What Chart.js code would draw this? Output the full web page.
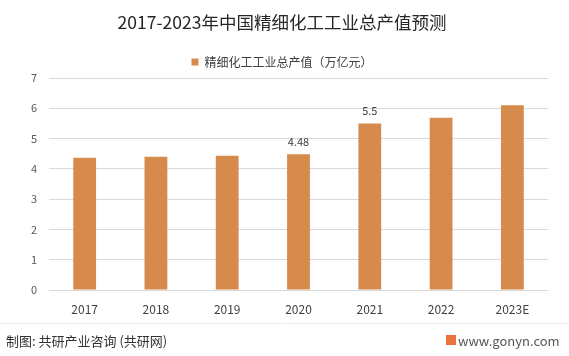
<!DOCTYPE html>
<html>
<head>
<meta charset="utf-8">
<script src="https://cdn.jsdelivr.net/npm/chart.js@4/dist/chart.umd.min.js"></script>
<style>
  html, body { margin: 0; padding: 0; background: #ffffff; }
  #wrap { width: 569px; height: 356px; position: relative; }
</style>
</head>
<body>
<div id="wrap"><canvas id="c" width="569" height="356"></canvas></div>
<script>
const titleText = '2017-2023年中国精细化工工业总产值预测';
const seriesName = '精细化工工业总产值（万亿元）';
const categories = ['2017', '2018', '2019', '2020', '2021', '2022', '2023E'];
const values = [4.37, 4.40, 4.43, 4.48, 5.5, 5.69, 6.10];
const showValueLabel = [false, false, false, true, true, false, false];
const yTicks = [0, 1, 2, 3, 4, 5, 6, 7];
const footerLeft = '制图: 共研产业咨询 (共研网)';
const footerRight = 'www.gonyn.com';

const FONT = '"Noto Sans CJK SC", "Noto Sans", sans-serif';
const BAR = '#D68B4C';

const extras = {
  id: 'extras',
  afterDatasetsDraw(chart) {
    const ctx = chart.ctx;
    const meta = chart.getDatasetMeta(0);
    ctx.save();
    ctx.font = '11px ' + FONT;
    ctx.fillStyle = '#404040';
    ctx.textAlign = 'center';
    ctx.textBaseline = 'middle';
    meta.data.forEach((bar, i) => {
      if (showValueLabel[i]) {
        ctx.fillText(String(values[i]), bar.x, bar.y - 12.5);
      }
    });
    ctx.restore();
  },
  afterDraw(chart) {
    const ctx = chart.ctx;
    ctx.save();
    ctx.strokeStyle = '#ececec';
    ctx.lineWidth = 1;
    ctx.beginPath();
    ctx.moveTo(0, 323.5);
    ctx.lineTo(569, 323.5);
    ctx.stroke();
    ctx.font = '13px ' + FONT;
    ctx.fillStyle = '#333333';
    ctx.textAlign = 'left';
    ctx.textBaseline = 'middle';
    ctx.fillText(footerLeft, 6, 341);
    ctx.fillStyle = '#E8743B';
    ctx.fillRect(446, 335, 10, 10);
    ctx.fillStyle = '#555555';
    ctx.fillText(footerRight, 458, 341);
    ctx.restore();
  }
};

new Chart(document.getElementById('c'), {
  type: 'bar',
  data: {
    labels: categories,
    datasets: [{
      label: seriesName,
      data: values,
      backgroundColor: BAR,
      borderWidth: 0,
      categoryPercentage: 1.0,
      barPercentage: 0.32
    }]
  },
  options: {
    responsive: false,
    animation: false,
    devicePixelRatio: 1,
    layout: { padding: { left: 16, right: 21, top: 0, bottom: 36 } },
    plugins: {
      title: {
        display: true,
        text: titleText,
        color: '#262626',
        font: { family: FONT, size: 17.5, weight: 'normal' },
        padding: { top: 12, bottom: 11 }
      },
      legend: {
        display: true,
        position: 'top',
        labels: {
          color: '#404040',
          font: { family: FONT, size: 12 },
          boxWidth: 7,
          boxHeight: 7,
          padding: 12
        }
      },
      tooltip: { enabled: false }
    },
    scales: {
      x: {
        grid: { display: false, drawTicks: false },
        border: { display: false },
        ticks: { color: '#404040', font: { family: FONT, size: 12 }, padding: 12 },
        afterFit(s) { s.height = 30; }
      },
      y: {
        min: 0,
        max: 7,
        afterBuildTicks(s) { s.ticks = yTicks.map(v => ({ value: v })); },
        grid: { color: '#d9d9d9', drawTicks: false },
        border: { display: false },
        ticks: { color: '#595959', font: { family: FONT, size: 11 }, padding: 12 },
        afterFit(s) { s.width = 33; }
      }
    }
  },
  plugins: [extras]
});
</script>
</body>
</html>
